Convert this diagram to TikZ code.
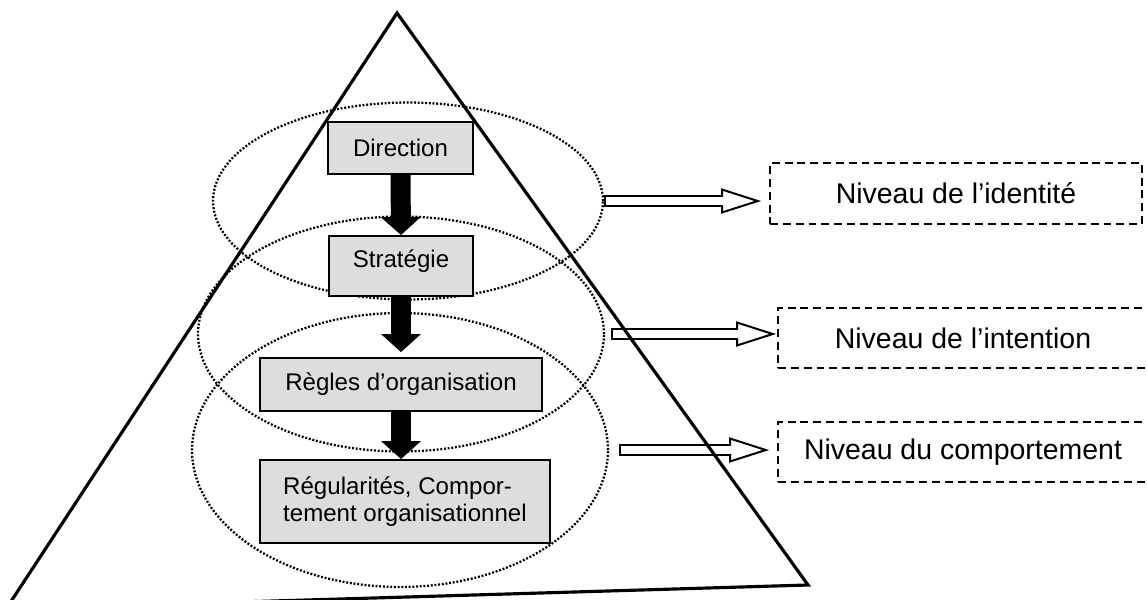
\documentclass[tikz,border=0pt]{standalone}
\usepackage{fontspec}
\setmainfont{Liberation Sans}
\usepackage{tikz}
\usetikzlibrary{calc, arrows.meta, shapes.geometric}
\definecolor{boxgray}{RGB}{221,221,221}

\begin{document}
\begin{tikzpicture}[
        x=0.02cm, y=-0.02cm,
        box/.style={rectangle, draw, line width=1.1pt, fill=boxgray, inner sep=0pt, align=center, font=\fontsize{13.7pt}{15.5pt}\selectfont},
        level/.style={rectangle, draw, line width=1pt, dash pattern=on 4.5pt off 2.8pt, minimum width=7.4cm, minimum height=1.2cm, font=\fontsize{16.2pt}{19pt}\selectfont},
        zone/.style={ellipse, draw, line width=1.3pt, dash pattern=on 1.1pt off 1pt, inner sep=0pt},
        flow/.style={line width=0.4cm, -{Triangle[width=0.8cm, length=0.36cm, line width=0pt]}},
        hollow/.style={line width=0.24cm, -{Triangle[open, fill=white, width=0.5cm, length=0.8cm, line width=0.04cm]}, postaction={draw=white, line width=0.16cm, -, shorten <=0.04cm, shorten >=0.6cm}},
        pyramid/.style={line width=1.8pt, line join=miter}
    ]
    \useasboundingbox (0,0) rectangle (1147,599);

    \node[zone, minimum width=7.8cm, minimum height=3.94cm] (eid) at (408,201) {};
    \node[zone, minimum width=8.12cm, minimum height=4.7cm] (eint) at (401,334) {};
    \node[zone, minimum width=8.32cm, minimum height=5.48cm] (ecomp) at (400,450) {};

    \node[box, minimum width=2.9cm, minimum height=1.04cm] (dir) at (400.5,148) {Direction};
    \node[box, minimum width=2.88cm, minimum height=1.2cm, text depth=0.28cm] (strat) at (401,266) {Stratégie};
    \node[box, minimum width=5.64cm, minimum height=1.06cm] (regles) at (401,384.5) {Règles d’organisation};
    \node[box, minimum width=5.8cm, minimum height=1.66cm, align=left] (regul) at (405,501.5) {Régularités, Compor-\\tement organisationnel};

    \node[level, minimum width=7.44cm, minimum height=1.22cm] (lvlid) at (956,193.5) {Niveau de l’identité};
    \node[level] (lvlint) at (963,338) {Niveau de l’intention};
    \node[level] (lvlcomp) at (963,452) {Niveau du comportement};

    \draw[flow] (dir.south) -- (strat.north);
    \draw[flow] (strat.south) -- ($(regles.north)+(0,-5)$);
    \draw[flow] (regles.south) -- (regles.south |- regul.north);

    \draw[hollow] (eid.east) -- ($(eid.east -| lvlid.west)+(-8,0)$);
    \draw[hollow] ($(eint.east)+(6,0)$) -- ($(eint.east -| lvlint.west)+(-1,0)$);
    \draw[hollow] ($(ecomp.east)+(10,0)$) -- ($(ecomp.east -| lvlcomp.west)+(-8,0)$);

    \draw[pyramid] (397,13) -- (808,585) -- (6,609) -- cycle;
\end{tikzpicture}
\end{document}
